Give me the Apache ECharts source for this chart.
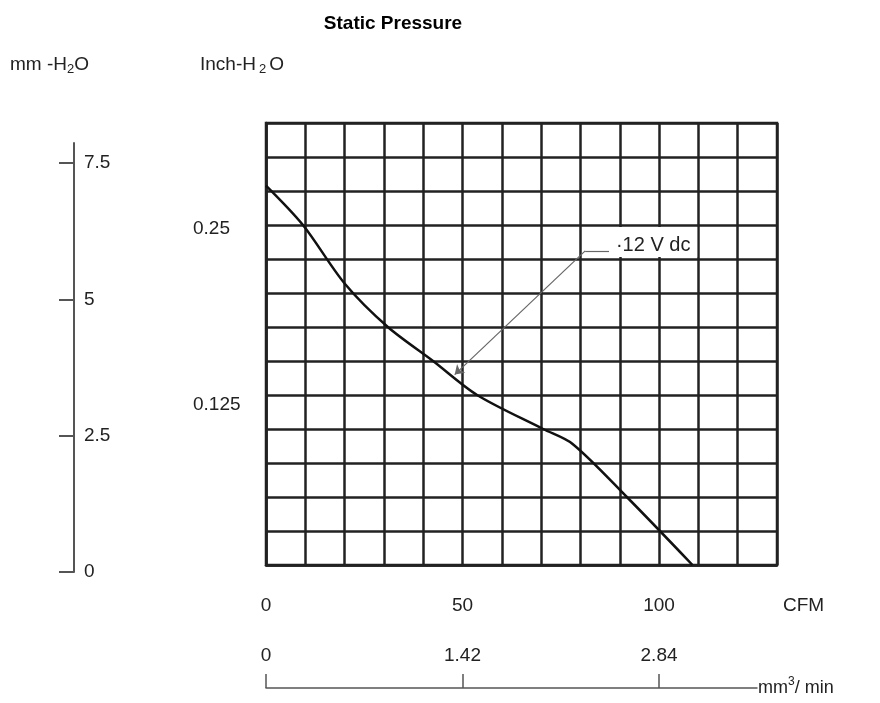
<!DOCTYPE html>
<html>
<head>
<meta charset="utf-8">
<script src="https://cdn.jsdelivr.net/npm/echarts@6/dist/echarts.min.js"></script>
<style>html,body{margin:0;padding:0;background:#fff}#c{width:880px;height:703px}</style>
</head>
<body>
<div id="c"></div>
<script>
// ---- data ----
const cfm = [0, 9.4, 20, 31, 42.5, 53.7, 70.5, 78, 91.8, 108.5];
const pressureInch = [0.279, 0.250, 0.207, 0.175, 0.150, 0.125, 0.100, 0.089, 0.050, 0];
const cfmTicks = [0, 50, 100];
const inchTicks = [0.125, 0.25];
const mmTicks = [0, 2.5, 5, 7.5];
const m3Ticks = [0, 1.42, 2.84];
const curveLabel = '·12 V dc';
const arrowFrom = [48, 0.140];
const arrowTo = [81.2, 0.231];
const arrowEnd = [87.3, 0.231];
const labelPos = [98.5, 0.2375];

const FONT = 'Liberation Sans, Arial, sans-serif';
const INK = '#222';
const FS = 19;
const chart = echarts.init(document.getElementById('c'), null, {renderer: 'canvas'});
const pts = cfm.map((x, i) => [x, pressureInch[i]]);

chart.setOption({
  animation: false,
  backgroundColor: '#fff',
  textStyle: {fontFamily: FONT},
  title: {
    text: 'Static Pressure', left: 388, top: 9, textAlign: 'center',
    textStyle: {fontSize: 19, fontWeight: 'bold', color: '#000', fontFamily: FONT}
  },
  graphic: [
    {type: 'text', left: 10, top: 55, style: {
      text: '{a|mm -H}{s|2}{a|O}',
      rich: {a: {fontSize: FS, fontFamily: FONT, fill: INK}, s: {fontSize: 13, fontFamily: FONT, fill: INK, padding: [9, 0, 0, 0]}}
    }},
    {type: 'text', left: 200, top: 55, style: {
      text: '{a|Inch-H}{s|2}{a|O}',
      rich: {a: {fontSize: FS, fontFamily: FONT, fill: INK}, s: {fontSize: 13, fontFamily: FONT, fill: INK, padding: [9, 3, 0, 3]}}
    }}
  ],
  grid: [
    {left: 266, right: 103, top: 123, bottom: 138, show: true, borderColor: INK, borderWidth: 2.5},
    {left: 74, width: 10, top: 143, bottom: 131},
    {left: 266, width: 491, top: 640, bottom: 15}
  ],
  xAxis: [
    {
      gridIndex: 0, type: 'value', min: 0, max: 130, interval: 10,
      name: 'CFM', nameLocation: 'end', nameGap: 6,
      nameTextStyle: {fontSize: FS, color: INK, fontFamily: FONT, verticalAlign: 'top', padding: [31, 0, 0, 0]},
      axisLine: {show: true, lineStyle: {color: INK, width: 2.5}},
      axisTick: {show: false},
      axisLabel: {customValues: cfmTicks, margin: 31, fontSize: FS, color: INK, fontFamily: FONT},
      splitLine: {show: true, lineStyle: {color: INK, width: 2.5}}
    },
    {gridIndex: 1, type: 'value', min: 0, max: 1, show: false},
    {
      gridIndex: 2, type: 'value', min: 0, max: 3.548, position: 'bottom',
      name: '{a|mm}{s|3}{a|/ min}', nameLocation: 'end', nameGap: 1,
      nameTextStyle: {rich: {
        a: {fontSize: 18, color: INK, fontFamily: FONT},
        s: {fontSize: 12, color: INK, fontFamily: FONT, padding: [0, 0, 12, 0]}
      }},
      axisLine: {show: true, lineStyle: {color: '#555', width: 1.5}},
      axisTick: {show: true, inside: true, length: 14, customValues: m3Ticks, lineStyle: {color: '#555', width: 1.5}},
      axisLabel: {inside: true, customValues: m3Ticks, margin: 23, fontSize: FS, color: INK, fontFamily: FONT},
      splitLine: {show: false}
    }
  ],
  yAxis: [
    {
      gridIndex: 0, type: 'value', min: 0, max: 0.325, interval: 0.025,
      axisLine: {show: true, lineStyle: {color: INK, width: 2.5}},
      axisTick: {show: false},
      axisLabel: {
        customValues: inchTicks, align: 'left', margin: 73, fontSize: FS, color: INK, fontFamily: FONT,
        formatter: v => (v > 0.2 ? '{a|' + v + '}' : '{b|' + v + '}'),
        rich: {
          a: {fontSize: FS, color: INK, fontFamily: FONT, padding: [8, 0, 0, 0]},
          b: {fontSize: FS, color: INK, fontFamily: FONT, padding: [20, 0, 0, 0]}
        }
      },
      splitLine: {show: true, lineStyle: {color: INK, width: 2.5}}
    },
    {
      gridIndex: 1, type: 'value', min: 0, max: 7.87, position: 'left',
      axisLine: {show: true, lineStyle: {color: '#555', width: 2}},
      axisTick: {show: true, inside: false, length: 15, customValues: mmTicks, lineStyle: {color: '#555', width: 2}},
      axisLabel: {inside: true, customValues: mmTicks, margin: 10, fontSize: FS, color: INK, fontFamily: FONT},
      splitLine: {show: false}
    },
    {gridIndex: 2, type: 'value', min: 0, max: 1, show: false}
  ],
  series: [{
    type: 'line', xAxisIndex: 0, yAxisIndex: 0,
    data: pts, smooth: 0.3, symbol: 'none',
    lineStyle: {color: '#111', width: 2.5},
    markLine: {
      silent: true, symbolSize: 9, precision: 4,
      label: {show: false},
      lineStyle: {color: '#666', width: 1.2, type: 'solid'},
      data: [
        [{coord: arrowFrom, symbol: 'arrow'}, {coord: arrowTo, symbol: 'none'}],
        [{coord: arrowTo, symbol: 'none'}, {coord: arrowEnd, symbol: 'none'}]
      ]
    },
    markPoint: {
      silent: true,
      data: [{coord: labelPos, value: curveLabel, symbol: 'rect', symbolSize: [88, 30],
        itemStyle: {color: '#fff'},
        label: {show: true, position: 'inside', formatter: curveLabel, fontSize: 20, color: INK, fontFamily: FONT, offset: [0, 3]}}]
    }
  }]
});
</script>
</body>
</html>
